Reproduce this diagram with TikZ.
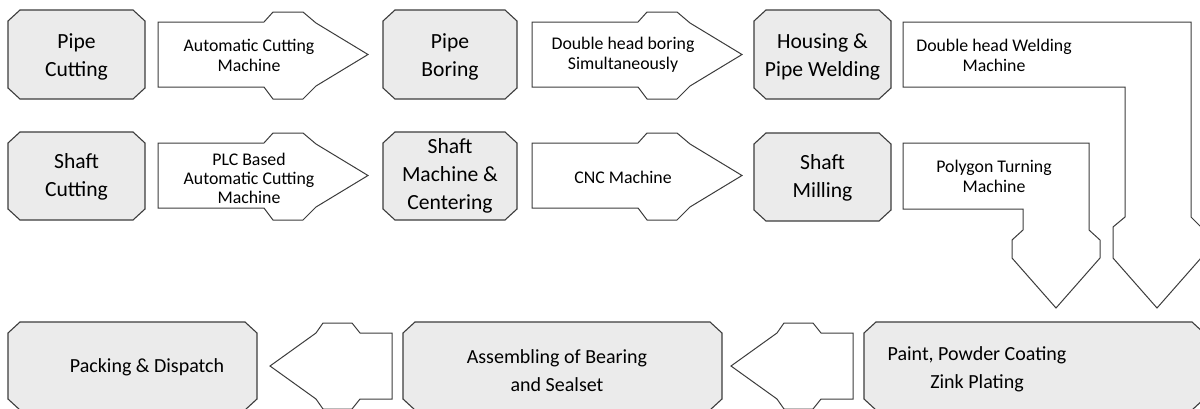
\documentclass[tikz,border=0pt]{standalone}
\usepackage{fontspec}
\setmainfont{Carlito}

\definecolor{boxgray}{HTML}{EBEBEB}
\definecolor{edgegray}{HTML}{3C3C3C}

% octagonal process box from (x1,y1) to (x2,y2)
\newcommand\chambox[4]{%
  \draw[boxline] (#1+12,#2) -- (#3-12,#2) -- (#3,#2+11) -- (#3,#4-11) -- (#3-12,#4)
    -- (#1+12,#4) -- (#1,#4-11) -- (#1,#2+11) -- cycle;}

\tikzset{
  boxline/.style={draw=edgegray,fill=boxgray,line width=0.55pt},
  boxtext/.style={align=center,inner sep=0pt,font=\fontsize{10.8}{14}\selectfont},
  blockline/.style={draw=edgegray,fill=white,line width=0.5pt,line join=miter},
  arrowtext/.style={align=center,inner sep=0pt,font=\fontsize{8.9}{10}\selectfont},
  bottomtext/.style={align=center,inner sep=0pt,font=\fontsize{10}{14}\selectfont},
  rblock/.pic={\draw[blockline] (0,0) -- (106,0) -- (115,-10) -- (145,-10) -- (158,1)
    -- (210,32.5) -- (158,64) -- (145,77) -- (115,77) -- (106,65) -- (0,65) -- cycle;},
  lblock/.pic={\draw[blockline] (0,0) -- (-32,0) -- (-40,-10) -- (-69,-10) -- (-76,0)
    -- (-122,33) -- (-76,66) -- (-69,76) -- (-40,76) -- (-32,66) -- (0,66) -- cycle;}
}

\begin{document}
\begin{tikzpicture}[x=0.5pt,y=-0.5pt]
  \useasboundingbox (0,0) rectangle (1200,408);
  \clip (0,0) rectangle (1200,408);

  % pipe line
  \chambox{8}{10}{145}{99}
  \node[boxtext] (pipecut) at (76.5,57) {Pipe\\Cutting};
  \pic at (158,22) {rblock};
  \node[arrowtext] (cutmach) at (249,55) {Automatic Cutting\\Machine};
  \chambox{383}{10}{517}{99}
  \node[boxtext] (pipebore) at (450,57) {Pipe\\Boring};
  \pic at (532,22) {rblock};
  \node[arrowtext] (boremach) at (623,55) {Double head boring\\Simultaneously};
  \chambox{754}{10}{891}{99}
  \node[boxtext] (pipeweld) at (822.5,57) {Housing \&\\Pipe Welding};
  \draw[blockline] (903,22) -- (1191,22) -- (1191,217) -- (1201,227) -- (1201,258) -- (1157,308)
    -- (1113,258) -- (1113,227) -- (1125,217) -- (1125,87) -- (903,87) -- cycle;
  \node[arrowtext] (weldmach) at (994,55) {Double head Welding\\Machine};

  % shaft line
  \chambox{8}{132}{145}{220}
  \node[boxtext] (shaftcut) at (76.5,177) {Shaft\\Cutting};
  \pic at (158,143) {rblock};
  \node[arrowtext,font=\fontsize{8.9}{9.6}\selectfont] (plcmach) at (249,178.5) {PLC Based\\Automatic Cutting\\Machine};
  \chambox{383}{132}{517}{220}
  \node[boxtext] (shaftcent) at (450,176) {Shaft\\Machine \&\\Centering};
  \pic at (532,143) {rblock};
  \node[arrowtext] (cncmach) at (623,177) {CNC Machine};
  \chambox{754}{133}{891}{221}
  \node[boxtext] (shaftmill) at (822.5,178) {Shaft\\Milling};
  \draw[blockline] (903,143) -- (1089,143) -- (1089,230) -- (1100,240) -- (1100,258) -- (1056,308)
    -- (1012,258) -- (1012,240) -- (1023,230) -- (1023,209) -- (903,209) -- cycle;
  \node[arrowtext] (polymach) at (994,176) {Polygon Turning\\Machine};

  % finishing line
  \chambox{864}{322}{1204}{410}
  \node[bottomtext] (paint) at (977,369) {Paint, Powder Coating\\Zink Plating};
  \pic at (853,333) {lblock};
  \chambox{403}{322}{722}{410}
  \node[bottomtext] (assembly) at (557,371) {Assembling of Bearing\\and Sealset};
  \pic at (392,333) {lblock};
  \chambox{8}{322}{257}{410}
  \node[bottomtext] (packing) at (147,367) {Packing \& Dispatch};
\end{tikzpicture}
\end{document}
